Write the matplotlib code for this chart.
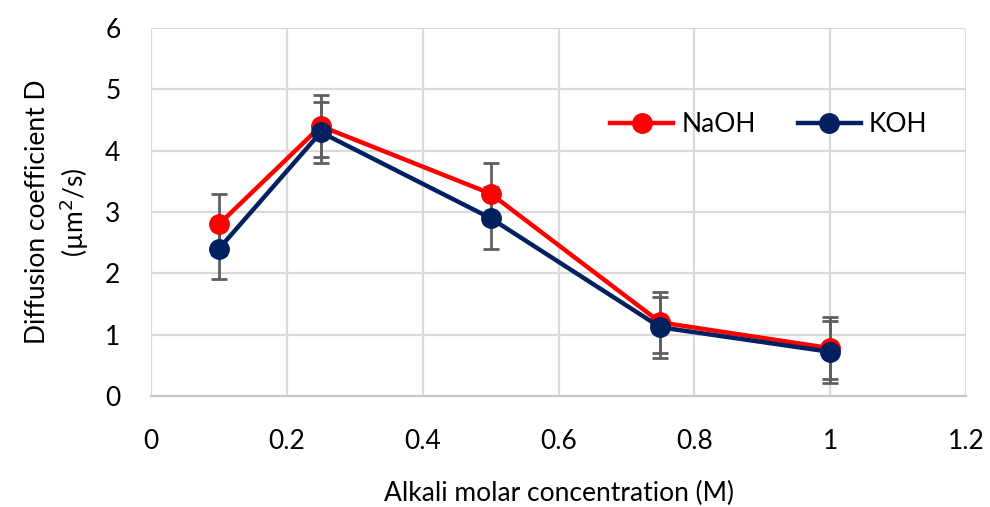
import matplotlib
matplotlib.use("Agg")
import matplotlib.pyplot as plt

conc = [0.1, 0.25, 0.5, 0.75, 1.0]
naoh = [2.8, 4.4, 3.3, 1.2, 0.78]
koh = [2.4, 4.3, 2.9, 1.12, 0.72]
naoh_err = [0.5, 0.5, 0.5, 0.5, 0.5]
koh_err = [0.5, 0.5, 0.5, 0.5, 0.5]
xticks = [0, 0.2, 0.4, 0.6, 0.8, 1, 1.2]
xticklabels = ["0", "0.2", "0.4", "0.6", "0.8", "1", "1.2"]
yticks = [0, 1, 2, 3, 4, 5, 6]

plt.rcParams['font.family'] = ['Lato', 'DejaVu Sans']

fig = plt.figure(figsize=(9.9, 5.07), dpi=100)
ax = fig.add_axes([151/990, 1-396/507, (966-151)/990, (396-28)/507])

ecol = '#5f5f5f'
ax.errorbar(conc, naoh, yerr=naoh_err, fmt='none', ecolor=ecol, elinewidth=2,
            capsize=5.5, capthick=2, zorder=3)
ax.errorbar(conc, koh, yerr=koh_err, fmt='none', ecolor=ecol, elinewidth=2,
            capsize=5.5, capthick=2, zorder=3)
ax.plot(conc, naoh, color='#FF0000', lw=3.2, marker='o', ms=14, label='NaOH', zorder=4)
ax.plot(conc, koh, color='#002060', lw=3.2, marker='o', ms=14, label='KOH', zorder=5)

ax.set_xlim(0, 1.2)
ax.set_ylim(0, 6)
ax.set_xticks(xticks)
ax.set_xticklabels(xticklabels)
ax.set_yticks(yticks)
ax.grid(True, color='#d9d9d9', lw=1.6)
ax.set_axisbelow(True)
for s in ['top', 'right', 'left']:
    ax.spines[s].set_visible(False)
ax.spines['bottom'].set_color('#c8c8c8')
ax.spines['bottom'].set_linewidth(1.6)
ax.tick_params(length=0, labelsize=19)
ax.tick_params(axis='x', pad=24)
ax.tick_params(axis='y', pad=22)

ax.set_xlabel('Alkali molar concentration (M)', fontsize=19, labelpad=19)
ax.set_ylabel('Diffusion coefficient D\n(µm$^2$/s)', fontsize=19, labelpad=10,
              linespacing=1.3)

leg = ax.legend(loc='upper right', bbox_to_anchor=(0.982, 0.835), ncol=2,
                frameon=False, fontsize=19, handlelength=2.4, columnspacing=1.6,
                handletextpad=0.3)

fig.savefig('out.png', dpi=100)
